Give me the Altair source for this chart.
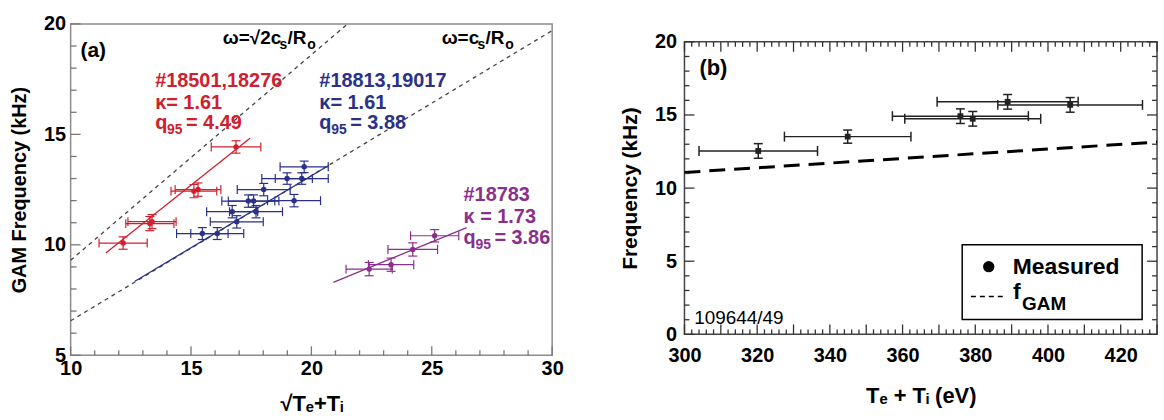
import altair as alt
import pandas as pd

FONT = "Liberation Sans"

# ---------------- panel (a): GAM frequency vs sqrt(Te+Ti) ----------------
red_x = [12.18, 13.29, 13.38, 15.12, 15.29, 16.87]
red_y = [10.08, 10.96, 11.05, 12.43, 12.50, 14.43]
red_xerr = [1.0, 1.0, 1.0, 0.95, 0.95, 1.03]
red_yerr = [0.28, 0.32, 0.32, 0.30, 0.30, 0.28]

blue_x = [15.47, 16.09, 16.90, 16.71, 17.70, 17.38, 17.60, 18.02, 19.28, 18.99, 19.60, 19.70]
blue_y = [10.51, 10.51, 11.04, 11.50, 11.50, 11.98, 11.98, 12.50, 12.00, 13.00, 13.00, 13.53]
blue_xerr = [1.07, 1.1, 1.1, 1.06, 1.1, 1.1, 1.05, 1.1, 1.1, 1.05, 1.1, 1.0]
blue_yerr = [0.27, 0.27, 0.28, 0.28, 0.28, 0.28, 0.28, 0.28, 0.28, 0.26, 0.26, 0.26]

purple_x = [22.40, 23.31, 24.21, 25.12]
purple_y = [8.90, 9.10, 9.79, 10.41]
purple_xerr = [0.96, 0.94, 1.03, 1.0]
purple_yerr = [0.30, 0.30, 0.30, 0.28]

red_fit_x = [11.46, 17.45]
red_fit_y = [9.63, 14.83]
blue_fit_x = [12.67, 20.73]
blue_fit_y = [8.35, 13.60]
purple_fit_x = [20.91, 26.45]
purple_fit_y = [8.30, 10.78]

sqrt2_line_x = [10.0, 21.5]
sqrt2_line_y = [9.3, 20.0]
cs_line_x = [10.0, 30.0]
cs_line_y = [6.56, 19.70]

a_x_labels = [10, 15, 20, 25, 30]
a_x_minor = [11, 12, 13, 14, 16, 17, 18, 19, 21, 22, 23, 24, 26, 27, 28, 29]
a_y_labels = [5, 10, 15, 20]
a_y_minor = [6, 7, 8, 9, 11, 12, 13, 14, 16, 17, 18, 19]

panel_a_tag = "(a)"
panel_a_tag_pos = [10.41, 18.51]
# omega labels: [main, subscript, middle, subscript]
sqrt2_label = ["ω=√2c", "s", "/R", "o"]
sqrt2_label_dx = [0, 57, 65, 85]
cs_label = ["ω=c", "s", "/R", "o"]
cs_label_dx = [0, 36, 44, 64]
omega_label_x = [16.32, 25.41]
omega_label_y = 19.10

red_label_lines = ["#18501,18276", "κ= 1.61", "= 4.49"]
blue_label_lines = ["#18813,19017", "κ= 1.61", "= 3.88"]
purple_label_lines = ["#18783", "κ = 1.73", "= 3.86"]
q_symbol = ["q", "95"]
red_label_x = 13.51
blue_label_x = 20.33
purple_label_x = 26.32
upper_label_y = [17.16, 16.17, 15.23]
purple_label_y = [11.98, 10.99, 10.05]

# ---------------- panel (b): frequency vs Te+Ti ----------------
meas_te_ti = [320.3, 344.9, 375.9, 379.3, 388.9, 406.1]
meas_freq = [12.54, 13.52, 14.92, 14.74, 15.90, 15.69]
meas_xerr = [16.3, 17.4, 18.7, 18.7, 19.4, 19.9]
meas_yerr = [0.5, 0.45, 0.5, 0.5, 0.5, 0.5]

fgam_x = [300.0, 430.0]
fgam_y = [11.07, 13.15]

b_x_labels = [300, 320, 340, 360, 380, 400, 420]
b_x_major = [300, 310, 320, 330, 340, 350, 360, 370, 380, 390, 400, 410, 420, 430]
b_x_minor = [v for v in range(302, 430, 2) if v % 10 != 0]
b_y_labels = [0, 5, 10, 15, 20]
b_y_minor = [1, 2, 3, 4, 6, 7, 8, 9, 11, 12, 13, 14, 16, 17, 18, 19]

b_text = ["(b)", "109644/49"]
b_text_x = [304.1, 302.7]
b_text_y = [17.76, 0.68]

legend_box_x = [376.4, 425.9]
legend_box_y = [6.12, 1.02]
legend_dot = [383.7, 4.63]
legend_measured = [390.3, 4.15]
legend_dash_x = [378.8, 387.6]
legend_dash_y = 2.59
legend_f = [390.4, 2.45]
legend_labels = ["Measured", "f", "GAM"]

RED = "#d0202e"
BLUE = "#2b3188"
PURPLE = "#8a2f8c"


def X(field, scale, axis=None):
    return alt.X(field, type="quantitative", scale=scale, axis=axis)


def Y(field, scale, axis=None):
    return alt.Y(field, type="quantitative", scale=scale, axis=axis)


def errorbar_layers(x, y, xe, ye, color, xs, ys, shape, size, sw, capx, capy):
    df = pd.DataFrame({"x": x, "y": y, "xe": xe, "ye": ye})
    df["xlo"] = df["x"] - df["xe"]
    df["xhi"] = df["x"] + df["xe"]
    df["ylo"] = df["y"] - df["ye"]
    df["yhi"] = df["y"] + df["ye"]
    capsx = pd.DataFrame({"cx": list(df["xlo"]) + list(df["xhi"]), "y": list(df["y"]) * 2})
    capsy = pd.DataFrame({"x": list(df["x"]) * 2, "cy": list(df["ylo"]) + list(df["yhi"])})
    hb = alt.Chart(df).mark_rule(color=color, strokeWidth=sw).encode(
        x=X("xlo", xs), x2="xhi", y=Y("y", ys))
    vb = alt.Chart(df).mark_rule(color=color, strokeWidth=sw).encode(
        x=X("x", xs), y=Y("ylo", ys), y2="yhi")
    cx = alt.Chart(capsx).mark_tick(color=color, orient="vertical", size=capx,
                                    thickness=sw, opacity=1).encode(x=X("cx", xs), y=Y("y", ys))
    cy = alt.Chart(capsy).mark_tick(color=color, orient="horizontal", size=capy,
                                    thickness=sw, opacity=1).encode(x=X("x", xs), y=Y("cy", ys))
    pt = alt.Chart(df).mark_point(shape=shape, filled=True, size=size, color=color,
                                  opacity=1, strokeWidth=0).encode(x=X("x", xs), y=Y("y", ys))
    return [hb, vb, cx, cy, pt]


def line_layer(xv, yv, color, xs, ys, width, dash=None, ax=None, ay=None):
    df = pd.DataFrame({"x": xv, "y": yv})
    kw = dict(color=color, strokeWidth=width)
    if dash is not None:
        kw["strokeDash"] = dash
    return alt.Chart(df).mark_line(**kw).encode(x=X("x", xs, ax), y=Y("y", ys, ay))


def text_layer(texts, xv, yv, color, size, xs, ys, weight="bold", dx=0, dy=0):
    df = pd.DataFrame({"x": xv, "y": yv, "t": texts})
    return alt.Chart(df).mark_text(align="left", baseline="alphabetic", font=FONT,
                                   fontSize=size, fontWeight=weight, color=color,
                                   dx=dx, dy=dy).encode(
        x=X("x", xs), y=Y("y", ys), text="t:N")


def tick_rules(values, scale, side, length, color, W, H):
    """Inward axis ticks: position from the scale, length in pixels."""
    df = pd.DataFrame({"v": values})
    if side == "bottom":
        enc = dict(x=X("v", scale), y=alt.value(H), y2=alt.value(H - length))
    elif side == "top":
        enc = dict(x=X("v", scale), y=alt.value(0), y2=alt.value(length))
    elif side == "left":
        enc = dict(y=Y("v", scale), x=alt.value(0), x2=alt.value(length))
    else:
        enc = dict(y=Y("v", scale), x=alt.value(W), x2=alt.value(W - length))
    return alt.Chart(df).mark_rule(color=color, strokeWidth=1.3).encode(**enc)


def make_axis(values, lp, **kw):
    return alt.Axis(values=values, ticks=False, domain=False, grid=False,
                    labelOverlap=False, labelFlush=False, labelPadding=lp,
                    labelFont=FONT, labelFontSize=20, labelFontWeight="bold", labelColor="black",
                    titleFont=FONT, titleFontWeight="bold", titleColor="black", **kw)


# ---------- panel (a) ----------
WA, HA = 484, 333
xs = alt.Scale(domain=[10, 30], nice=False, zero=False)
ys = alt.Scale(domain=[5, 20], nice=False, zero=False)
ax_a = make_axis(a_x_labels, 3, title="√Tₑ+Tᵢ", titleFontSize=22, titlePadding=16)
ay_a = make_axis(a_y_labels, 5, title="GAM Frequency (kHz)", titleFontSize=20, titlePadding=14)
TA = "#777777"
la = [
    line_layer(cs_line_x, cs_line_y, "#444444", xs, ys, 1.3, [4, 4], ax_a, ay_a),
    line_layer(sqrt2_line_x, sqrt2_line_y, "#444444", xs, ys, 1.3, [4, 4]),
    tick_rules(a_x_labels, xs, "bottom", 9, TA, WA, HA),
    tick_rules(a_x_minor, xs, "bottom", 5, TA, WA, HA),
    tick_rules(a_y_labels, ys, "left", 10, TA, WA, HA),
    tick_rules(a_y_minor, ys, "left", 6, TA, WA, HA),
    line_layer(red_fit_x, red_fit_y, RED, xs, ys, 1.3),
    line_layer(blue_fit_x, blue_fit_y, BLUE, xs, ys, 1.3),
    line_layer(purple_fit_x, purple_fit_y, PURPLE, xs, ys, 1.3),
]
la += errorbar_layers(red_x, red_y, red_xerr, red_yerr, RED, xs, ys, "circle", 30, 1.2, 9, 9)
la += errorbar_layers(blue_x, blue_y, blue_xerr, blue_yerr, BLUE, xs, ys, "circle", 30, 1.2, 9, 9)
la += errorbar_layers(purple_x, purple_y, purple_xerr, purple_yerr, PURPLE, xs, ys, "circle", 30, 1.2, 9, 9)
la.append(text_layer([panel_a_tag], [panel_a_tag_pos[0]], [panel_a_tag_pos[1]], "black", 21, xs, ys))
for i in range(4):
    sub = i in (1, 3)
    la.append(text_layer([sqrt2_label[i]], [omega_label_x[0]], [omega_label_y], "black",
                         14 if sub else 19, xs, ys, dx=sqrt2_label_dx[i], dy=5 if sub else 0))
    la.append(text_layer([cs_label[i]], [omega_label_x[1]], [omega_label_y], "black",
                         14 if sub else 19, xs, ys, dx=cs_label_dx[i], dy=5 if sub else 0))
for lines, lx, ly, col in [(red_label_lines, red_label_x, upper_label_y, RED),
                           (blue_label_lines, blue_label_x, upper_label_y, BLUE),
                           (purple_label_lines, purple_label_x, purple_label_y, PURPLE)]:
    la.append(text_layer(lines[:2], [lx, lx], ly[:2], col, 20, xs, ys))
    la.append(text_layer([q_symbol[0]], [lx], [ly[2]], col, 20, xs, ys))
    la.append(text_layer([q_symbol[1]], [lx], [ly[2]], col, 14, xs, ys, dx=12, dy=5))
    la.append(text_layer([lines[2]], [lx], [ly[2]], col, 20, xs, ys, dx=31))

left = alt.layer(*la).properties(
    width=WA, height=HA,
    view=alt.ViewBackground(stroke="#8c8c8c", strokeWidth=1.5),
).resolve_axis(x="independent", y="independent")

# ---------- panel (b) ----------
WB, HB = 475, 294
bx = alt.Scale(domain=[300, 430], nice=False, zero=False)
by = alt.Scale(domain=[0, 20], nice=False, zero=False)
ax_b = make_axis(b_x_labels, 11, title="Tₑ + Tᵢ (eV)", titleFontSize=22, titlePadding=21)
ay_b = make_axis(b_y_labels, 8, title="Frequency (kHz)", titleFontSize=21, titlePadding=14)
TB = "#333333"
lb = [
    line_layer(fgam_x, fgam_y, "black", bx, by, 3, [16, 9], ax_b, ay_b),
]
for side in ["bottom", "top"]:
    lb.append(tick_rules(b_x_major, bx, side, 10, TB, WB, HB))
    lb.append(tick_rules(b_x_minor, bx, side, 5, TB, WB, HB))
for side in ["left", "right"]:
    lb.append(tick_rules(b_y_labels, by, side, 10, TB, WB, HB))
    lb.append(tick_rules(b_y_minor, by, side, 5, TB, WB, HB))
lb += errorbar_layers(meas_te_ti, meas_freq, meas_xerr, meas_yerr, "#222222", bx, by,
                      "square", 34, 1.5, 10, 9)
box = pd.DataFrame({"x": [legend_box_x[0]], "x2": [legend_box_x[1]],
                    "y": [legend_box_y[0]], "y2": [legend_box_y[1]]})
lb.append(alt.Chart(box).mark_rect(fill="white", stroke="black", strokeWidth=1.5).encode(
    x=X("x", bx), x2="x2", y=Y("y", by), y2="y2"))
dot = pd.DataFrame({"x": [legend_dot[0]], "y": [legend_dot[1]]})
lb.append(alt.Chart(dot).mark_circle(size=130, color="black", opacity=1).encode(
    x=X("x", bx), y=Y("y", by)))
dash = pd.DataFrame({"x": [legend_dash_x[0]], "x2": [legend_dash_x[1]], "y": [legend_dash_y]})
lb.append(alt.Chart(dash).mark_rule(color="black", strokeWidth=1.5, strokeDash=[5, 4]).encode(
    x=X("x", bx), x2="x2", y=Y("y", by)))
lb += [
    text_layer([legend_labels[0]], [legend_measured[0]], [legend_measured[1]], "black", 23, bx, by),
    text_layer([legend_labels[1]], [legend_f[0]], [legend_f[1]], "black", 23, bx, by),
    text_layer([legend_labels[2]], [legend_f[0]], [legend_f[1]], "black", 19, bx, by, dx=9, dy=12),
    text_layer(b_text[:1], b_text_x[:1], b_text_y[:1], "black", 22, bx, by),
    text_layer(b_text[1:], b_text_x[1:], b_text_y[1:], "black", 19, bx, by, weight="normal"),
]
right = alt.layer(*lb).properties(
    width=WB, height=HB,
    view=alt.ViewBackground(stroke="#444444", strokeWidth=1.5),
).resolve_axis(x="independent", y="independent")

spacer = alt.Chart(pd.DataFrame({"x": [0]})).mark_text(text="").encode(
    x=alt.value(0), y=alt.value(0)
).properties(width=WB, height=6, view=alt.ViewBackground(stroke="transparent"))

right_col = alt.vconcat(spacer, right, spacing=0)

chart = alt.hconcat(left, right_col, spacing=55).properties(
    padding={"left": 9, "top": 12, "right": 0, "bottom": 0}
).configure(font=FONT)

chart.save("out.html", embed_options={"renderer": "svg", "actions": False})
